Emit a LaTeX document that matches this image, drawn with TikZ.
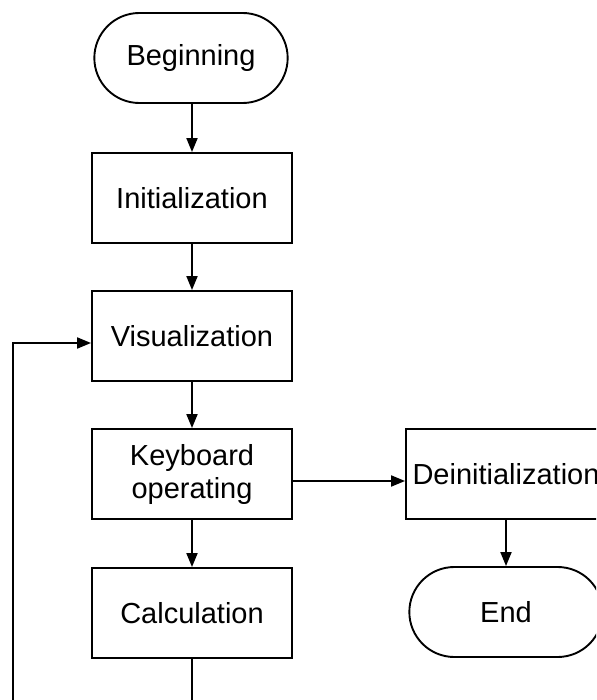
\documentclass[tikz,border=0pt]{standalone}
\usepackage{fontspec}
\setmainfont{Liberation Sans}
\usetikzlibrary{arrows.meta,shapes.misc}
\tikzset{
  box/.style={draw, minimum width=200pt, minimum height=90pt, align=center,
    font=\fontsize{29}{33}\selectfont},
  term/.style={box, rounded rectangle},
}
\begin{document}
\begin{tikzpicture}[x=1pt,y=-1pt,line width=1.9pt,
    >={Triangle[length=14pt,width=11pt]}]
      \useasboundingbox (0,0) rectangle (596,700);
      \clip (0,0) rectangle (596,700);
      \draw
        (191,58) node[term] (begin){Beginning}
        (192,198) node[box] (init){Initialization}
        (192,336) node[box] (vis){Visualization}
        (192,474) node[box] (keys){Keyboard\\operating}
        (192,613) node[box] (calc){Calculation}
        (506,474) node[box] (deinit){Deinitialization}
        (506,612) node[term] (end){End};
      \coordinate (loopbot) at (192,740);
      \coordinate (loopleft) at (13,740);
      \begin{scope}[->]
        \draw (begin.south -| init) to (init);
        \draw (init) to (vis);
        \draw (vis) to (keys);
        \draw (keys) to (calc);
        \draw ([yshift=-7pt]keys.east) to ([yshift=-7pt]deinit.west);
        \draw (deinit) to (end);
        \draw (calc) -- (loopbot) -- (loopleft) |- ([yshift=-7pt]vis.west);
      \end{scope}
    \end{tikzpicture}
\end{document}
